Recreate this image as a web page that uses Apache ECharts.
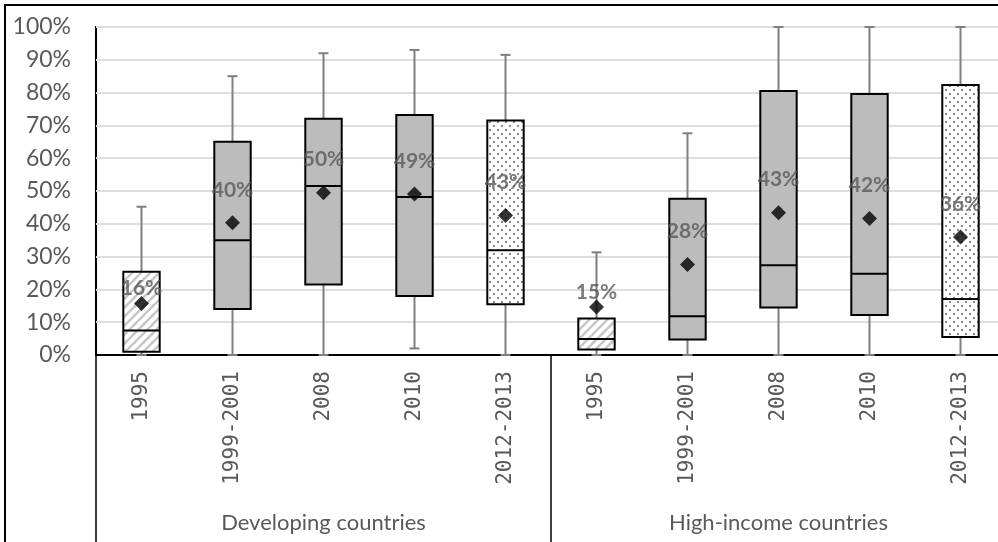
<!DOCTYPE html>
<html>
<head>
<meta charset="utf-8">
<script src="https://cdn.jsdelivr.net/npm/echarts@6/dist/echarts.min.js"></script>
<style>
  html, body { margin: 0; padding: 0; background: #fff; overflow: hidden; }
  #chart { position: absolute; left: 0; top: 0; width: 1012px; height: 542px; }
  #frame { position: absolute; left: 4px; top: 4px; width: 1000px; height: 600px;
           border: 2px solid #000; pointer-events: none; }
</style>
</head>
<body>
<div id="chart"></div>
<div id="frame"></div>
<script>
// periods per income group (values in %)
const categories = ['1995', '1999-2001', '2008', '2010', '2012-2013',
                    '1995', '1999-2001', '2008', '2010', '2012-2013'];
const groups = ['Developing countries', 'High-income countries'];
const lowWhisker  = [0,    0,    0,    2,    0,    0,    0,    0,    0,    0];
const q1          = [1,    14,   21.5, 18,   15.5, 1.7,  4.7,  14.5, 12.2, 5.5];
const median      = [7.5,  35,   51.5, 48.2, 31.9, 4.9,  11.8, 27.4, 24.8, 17.1];
const q3          = [25.4, 65,   72,   73.2, 71.5, 11.1, 47.6, 80.5, 79.6, 82.3];
const highWhisker = [45.2, 85,   92,   93,   91.5, 31.3, 67.6, 100,  100,  100];
const mean        = [15.7, 40.3, 49.5, 49.1, 42.5, 14.6, 27.6, 43.4, 41.6, 36];

// fill patterns
function stripes() {
  const c = document.createElement('canvas');
  c.width = 9; c.height = 9;
  const g = c.getContext('2d');
  g.fillStyle = '#fff';
  g.fillRect(0, 0, 9, 9);
  g.strokeStyle = '#c8c8c8';
  g.lineWidth = 2.5;
  [[-9, 9, 0, 0], [0, 9, 9, 0], [0, 18, 18, 0], [-1, 1, 1, -1], [8, 10, 10, 8]].forEach(function (s) {
    g.beginPath();
    g.moveTo(s[0], s[1]);
    g.lineTo(s[2], s[3]);
    g.stroke();
  });
  return c;
}
function dots() {
  const c = document.createElement('canvas');
  c.width = 8; c.height = 8;
  const g = c.getContext('2d');
  g.fillStyle = '#fff';
  g.fillRect(0, 0, 8, 8);
  g.fillStyle = '#8a8a8a';
  g.fillRect(1, 1, 2, 2);
  g.fillRect(5, 5, 2, 2);
  return c;
}
const stripeFill = { image: stripes(), repeat: 'repeat' };
const dotFill = { image: dots(), repeat: 'repeat' };

function fillFor(i) {
  if (categories[i] === '1995') return stripeFill;
  if (categories[i] === '2012-2013') return dotFill;
  return '#bcbcbc';
}

const boxData = categories.map(function (c, i) {
  return [i, lowWhisker[i], q1[i], median[i], q3[i], highWhisker[i]];
});
const meanData = categories.map(function (c, i) {
  const item = { value: [i, mean[i]] };
  if (c === '1995') item.label = { distance: -3 };
  return item;
});

const chart = echarts.init(document.getElementById('chart'), null, { renderer: 'canvas' });

const option = {
  animation: false,
  title: {
    text: 'Figure 4: Share of all the firms that are innovating in the total across countries by income group, 1995-2013',
    left: -8,
    top: -30,
    textStyle: { fontFamily: 'Liberation Serif', fontWeight: 'bold', fontSize: 22, color: '#000' }
  },
  grid: {
    left: 96, right: 6, top: 27, bottom: 187,
    show: true, borderColor: '#000', borderWidth: 2
  },
  xAxis: [
    {
      type: 'category',
      data: categories,
      position: 'bottom',
      axisLine: { lineStyle: { color: '#000', width: 2 } },
      axisTick: { show: false },
      axisLabel: {
        interval: 0, rotate: 90, margin: 16,
        fontFamily: 'DejaVu Sans Mono', fontSize: 21, color: '#595959'
      }
    },
    {
      type: 'category',
      data: groups,
      position: 'bottom',
      axisLine: { show: false },
      axisTick: { show: true, interval: 0, length: 187, lineStyle: { color: '#000', width: 1.5 } },
      axisLabel: { margin: 157, fontFamily: 'Lato', fontSize: 22, color: '#595959' }
    }
  ],
  yAxis: {
    type: 'value',
    min: 0, max: 100, interval: 10,
    axisLine: { show: false },
    axisTick: { show: false },
    axisLabel: { formatter: '{value}%', margin: 25, fontFamily: 'Lato', fontSize: 23, color: '#595959' },
    splitLine: { lineStyle: { color: '#dedede', width: 2 } }
  },
  series: [
    {
      type: 'custom',
      xAxisIndex: 0,
      encode: { x: 0, y: [1, 2, 3, 4, 5] },
      data: boxData,
      renderItem: function (params, api) {
        const i = api.value(0);
        const low = api.coord([i, api.value(1)]);
        const lo = api.coord([i, api.value(2)]);
        const mid = api.coord([i, api.value(3)]);
        const hi = api.coord([i, api.value(4)]);
        const top = api.coord([i, api.value(5)]);
        const w = api.size([1, 0])[0] * 0.4;
        const cap = 5;
        const whisker = { stroke: '#7f7f7f', lineWidth: 2 };
        return {
          type: 'group',
          children: [
            { type: 'line', shape: { x1: top[0], y1: top[1], x2: hi[0], y2: hi[1] }, style: whisker },
            { type: 'line', shape: { x1: low[0], y1: low[1], x2: lo[0], y2: lo[1] }, style: whisker },
            { type: 'line', shape: { x1: top[0] - cap, y1: top[1], x2: top[0] + cap, y2: top[1] }, style: whisker },
            { type: 'line', shape: { x1: low[0] - cap, y1: low[1], x2: low[0] + cap, y2: low[1] }, style: whisker },
            {
              type: 'rect',
              shape: { x: hi[0] - w / 2, y: hi[1], width: w, height: lo[1] - hi[1] },
              style: { fill: fillFor(i), stroke: '#000', lineWidth: 2 }
            },
            { type: 'line', shape: { x1: mid[0] - w / 2, y1: mid[1], x2: mid[0] + w / 2, y2: mid[1] },
              style: { stroke: '#000', lineWidth: 2 } }
          ]
        };
      }
    },
    {
      type: 'scatter',
      xAxisIndex: 0,
      data: meanData,
      symbol: 'diamond',
      symbolSize: 15,
      itemStyle: { color: '#000' },
      label: {
        show: true,
        position: 'top',
        distance: 15,
        formatter: function (p) { return Math.round(p.value[1]) + '%'; },
        fontFamily: 'Lato', fontWeight: 'bold', fontSize: 21, color: '#595959'
      },
      z: 3
    }
  ]
};

chart.setOption(option);
</script>
</body>
</html>
